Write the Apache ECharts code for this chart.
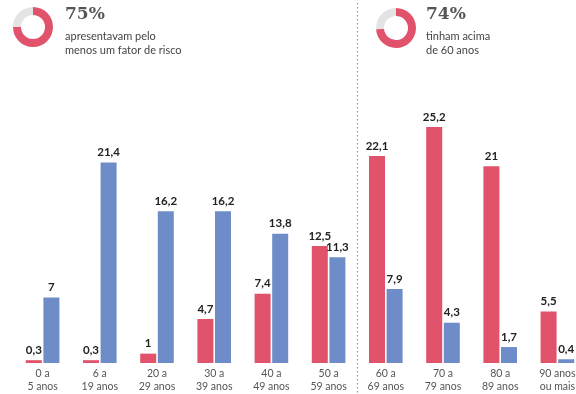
<!DOCTYPE html>
<html>
<head>
<meta charset="utf-8">
<script src="https://cdn.jsdelivr.net/npm/echarts@6/dist/echarts.min.js"></script>
<style>
html,body{margin:0;padding:0;background:#fff;overflow:hidden;width:576px;height:394px;}
#c{width:592px;height:394px;}
</style>
</head>
<body>
<div id="c"></div>
<script>
var categories = ['0 a\n5 anos','6 a\n19 anos','20 a\n29 anos','30 a\n39 anos','40 a\n49 anos','50 a\n59 anos','60 a\n69 anos','70 a\n79 anos','80 a\n89 anos','90 anos\nou mais'];
var redValues = [0.3, 0.3, 1, 4.7, 7.4, 12.5, 22.1, 25.2, 21, 5.5];
var blueValues = [7, 21.4, 16.2, 16.2, 13.8, 11.3, 7.9, 4.3, 1.7, 0.4];
var donut1 = [75, 25];
var donut2 = [74, 26];
var header1 = ['75%', 'apresentavam pelo', 'menos um fator de risco'];
var header2 = ['74%', 'tinham acima', 'de 60 anos'];

var RED = '#e1536a', BLUE = '#6e8dc8', GREY = '#e4e4e4';
var chart = echarts.init(document.getElementById('c'), null, {renderer:'canvas'});

function fmt(p){ return String(p.value).replace('.', ','); }
var lbl = {show:true, position:'top', distance:4, formatter:fmt, fontFamily:'Lato', fontWeight:'bold', fontSize:11.5, color:'#222'};

function donut(center, vals){
  return {type:'pie', center:center, radius:[12,20], silent:true, startAngle:90, clockwise:true,
    label:{show:false}, labelLine:{show:false},
    data:[{value:vals[0], itemStyle:{color:RED}}, {value:vals[1], itemStyle:{color:GREY}}]};
}

function headerText(x, lines){
  return [
    {type:'text', left:x, top:6, style:{text:lines[0], font:'bold 17px "DejaVu Serif"', fill:'#555'}},
    {type:'text', left:x, top:29, style:{text:lines[1]+'\n'+lines[2], font:'11px Lato', fill:'#444', lineHeight:14}}
  ];
}

chart.setOption({
  animation:false,
  grid:{left:14, right:6, top:82, bottom:31, containLabel:false},
  xAxis:{type:'category', data:categories, axisLine:{show:false}, axisTick:{show:false},
    axisLabel:{interval:0, margin:4, fontFamily:'Lato', fontSize:10.5, color:'#555', lineHeight:13}},
  yAxis:{type:'value', min:0, max:30, show:false, splitLine:{show:false}},
  series:[
    {type:'bar', data:redValues, barWidth:16, barGap:'10%', itemStyle:{color:RED}, label:lbl},
    {type:'bar', data:blueValues, barWidth:16, itemStyle:{color:BLUE}, label:lbl},
    donut([33,27], donut1),
    donut([396,28], donut2)
  ],
  graphic: headerText(65, header1).concat(headerText(426, header2))
});

var a = chart.convertToPixel({xAxisIndex:0}, categories[5]);
var b = chart.convertToPixel({xAxisIndex:0}, categories[6]);
var xm = Math.round((a+b)/2)+0.5;
chart.setOption({graphic: headerText(65, header1).concat(headerText(426, header2)).concat([
  {type:'line', shape:{x1:xm, y1:3, x2:xm, y2:394}, style:{stroke:'#999', lineWidth:1.2, lineDash:[1.5,2.5]}}
])});
</script>
</body>
</html>
